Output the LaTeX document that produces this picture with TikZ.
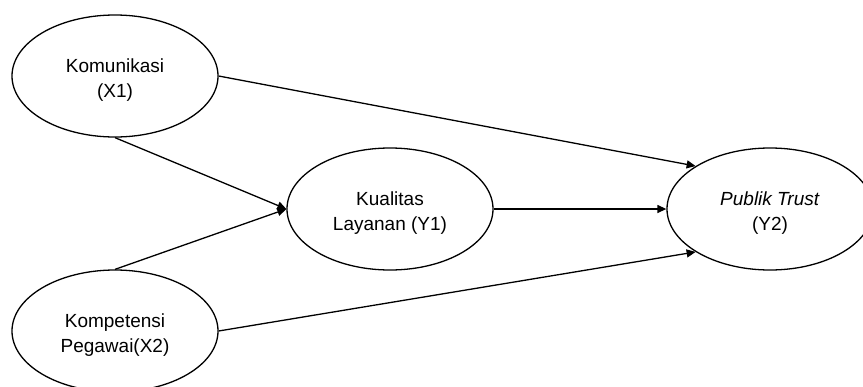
\documentclass[tikz,border=0pt]{standalone}
\usepackage{fontspec}
\setmainfont{Liberation Sans}
\usetikzlibrary{arrows.meta,shapes.geometric}
\begin{document}
\begin{tikzpicture}[x=1pt,y=-1pt,
  var/.style={ellipse, draw, line width=1.3pt, minimum width=206pt,
    minimum height=122pt, inner sep=0pt},
  txt/.style={inner sep=0pt, align=center, font=\fontsize{19}{25}\selectfont},
  link/.style={line width=1.3pt, -{Triangle[length=9pt,width=8pt]}}]
\useasboundingbox (0,0) rectangle (863,386);
\clip (0,0) rectangle (863,386);
% latent variables
\node[var] (x1) at (115,76)  {};
\node[var] (y1) at (390,209) {};
\node[var] (y2) at (770,209) {};
\node[var] (x2) at (115,331) {};
% their captions
\node[txt] (tx1) at ([yshift=-4pt]x1.center) {Komunikasi\\(X1)};
\node[txt] (ty1) at ([yshift=-4pt]y1.center) {Kualitas\\Layanan (Y1)};
\node[txt] (ty2) at ([yshift=-4pt]y2.center) {\textit{Publik Trust}\\(Y2)};
\node[txt] (tx2) at ([yshift=-4pt]x2.center) {Kompetensi\\Pegawai(X2)};
% paths
\draw[link] (x1.east)  -- (y2.150);
\draw[link] (x1.south) -- (y1.west);
\draw[link] (x2.north) -- (y1.west);
\draw[link] (y1.east)  -- (y2.west);
\draw[link] (x2.east)  -- (y2.210);
\end{tikzpicture}
\end{document}
